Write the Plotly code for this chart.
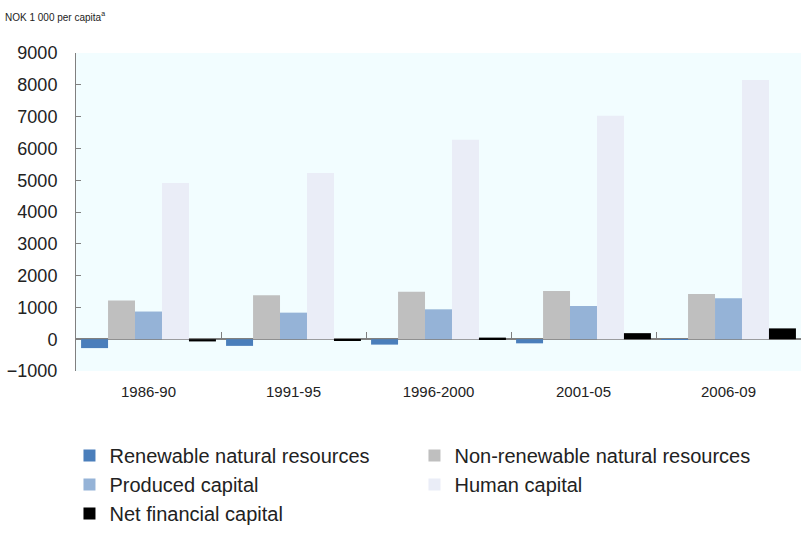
import plotly.graph_objects as go

periods = ["1986-90", "1991-95", "1996-2000", "2001-05", "2006-09"]
renewable = [-280, -210, -170, -130, -20]
non_renewable = [1220, 1380, 1495, 1515, 1420]
produced = [870, 835, 940, 1045, 1285]
human = [4910, 5225, 6270, 7030, 8150]
net_financial = [-70, -30, 50, 190, 340]

series = [
    ("Renewable natural resources", renewable, "#4a7ebb"),
    ("Non-renewable natural resources", non_renewable, "#bfbfbf"),
    ("Produced capital", produced, "#95b3d7"),
    ("Human capital", human, "#eaedf7"),
    ("Net financial capital", net_financial, "#000000"),
]

y_ticks = list(range(-1000, 9001, 1000))

fig = go.Figure()
for name, vals, color in series:
    fig.add_trace(go.Bar(name=name, x=periods, y=vals, marker=dict(color=color, line=dict(width=0))))

fig.update_layout(
    width=801, height=533,
    margin=dict(l=76, r=0, t=53, b=161),
    paper_bgcolor="white",
    plot_bgcolor="#f2fdff",
    barmode="group",
    bargap=0.07,
    bargroupgap=0,
    font=dict(family="Liberation Sans, Arial, sans-serif", color="#222222"),
    title=dict(text="NOK 1 000 per capita<sup>a</sup>", x=5/801, xanchor="left", xref="container",
               y=1-17/533, yanchor="middle", yref="container",
               font=dict(size=10, color="#222222")),
    showlegend=True,
    legend=dict(orientation="h", x=-0.009, xanchor="left", y=-0.205, yanchor="top",
                font=dict(size=20, color="#222222"), entrywidth=300, traceorder="normal",
                bgcolor="rgba(0,0,0,0)", itemwidth=30),
    xaxis=dict(type="category", categoryorder="array", categoryarray=periods,
               showline=False, ticks="", showgrid=False, zeroline=False,
               tickfont=dict(size=15, color="#222222"), ticklabelstandoff=10),
    xaxis2=dict(overlaying="x", anchor="free", position=0.1, range=[-0.5, len(periods) - 0.5],
                showline=False, showgrid=False, zeroline=False, ticks="inside", ticklen=7,
                tickcolor="#7f7f7f", tickwidth=1,
                tickvals=[i + 0.5 for i in range(len(periods) - 1)], showticklabels=False),
    yaxis=dict(range=[-1000, 9000], tickvals=y_ticks, showgrid=False,
               zeroline=True, zerolinecolor="#808080", zerolinewidth=1.5,
               showline=True, linecolor="#808080", linewidth=1,
               ticks="inside", ticklen=5, tickcolor="#808080",
               tickfont=dict(size=18, color="#222222"), ticklabelstandoff=14),
)
fig.add_trace(go.Scatter(x=[None], y=[None], xaxis="x2", showlegend=False, hoverinfo="skip"))

fig.write_html("out.html")
